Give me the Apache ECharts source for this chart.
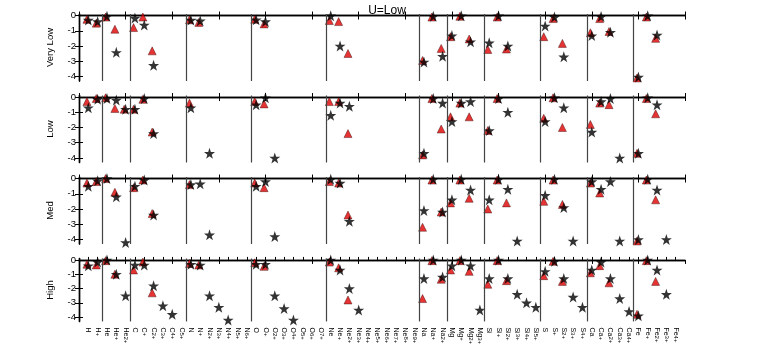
<!DOCTYPE html>
<html><head><meta charset="utf-8">
<script src="https://cdn.jsdelivr.net/npm/echarts@6/dist/echarts.min.js"></script>
<style>html,body{margin:0;padding:0;background:#fff}#c{width:763px;height:347px}</style>
</head><body><div id="c"></div>
<script>
const _ = null;
const title = 'U=Low';
const rowNames = ['Very Low', 'Low', 'Med', 'High'];
const categories = ['H','H+','He','He+','He2+','C','C+','C2+','C3+','C4+','C5+',
 'N','N+','N2+','N3+','N4+','N5+','N6+','O','O+','O2+','O3+','O4+','O5+','O6+','O7+',
 'Ne','Ne+','Ne2+','Ne3+','Ne4+','Ne5+','Ne6+','Ne7+','Ne8+','Ne9+','Na','Na+','Na2+',
 'Mg','Mg+','Mg2+','Mg3+','Si','Si+','Si2+','Si3+','Si4+','Si5+','S','S+','S2+','S3+','S4+',
 'Ca','Ca+','Ca2+','Ca3+','Ca4+','Fe','Fe+','Fe2+','Fe3+','Fe4+'];
const yTicks = [0, -1, -2, -3, -4];

// groups: H(2) | He(3) | C(6) | N(7) | O(8) | Ne(10) | Na(3) | Mg(4) | Si(6) | S(5) | Ca(5) | Fe(5)
const triVeryLow = [
  -0.25,-0.5,  -0.1,-0.9,_,  -0.79,-0.1,-2.32,_,_,_,  -0.28,-0.45,_,_,_,_,_,  -0.25,-0.55,_,_,_,_,_,_,
  -0.33,-0.4,-2.49,_,_,_,_,_,_,_,  -2.95,-0.1,-2.16,  -1.39,-0.05,-1.54,_,  -2.23,-0.1,-2.2,_,_,_,
  -1.39,-0.2,-1.83,_,_,  -1.13,-0.2,-1.05,_,_,  -4.1,-0.1,-1.5,_,_];
const starVeryLow = [
  -0.3,-0.4,  -0.05,-2.42,_,  -0.17,-0.62,-3.27,_,_,_,  -0.3,-0.35,_,_,_,_,_,  -0.28,-0.4,_,_,_,_,_,_,
  -0.02,-2.0,_,_,_,_,_,_,_,_,  -3.05,-0.05,-2.67,  -1.32,-0.02,-1.72,_,  -1.79,-0.02,-2.0,_,_,_,
  -0.68,-0.1,-2.71,_,_,  -1.32,-0.07,-1.1,_,_,  -4.04,-0.02,-1.28,_,_];
const triLow = [
  -0.3,-0.1,  -0.05,-0.75,-0.8,  -0.8,-0.15,-2.3,_,_,_,  -0.4,_,_,_,_,_,_,  -0.3,-0.45,_,_,_,_,_,_,
  -0.3,-0.3,-2.4,_,_,_,_,_,_,_,  -3.8,-0.1,-2.1,  -1.3,-0.4,-1.3,_,  -2.2,-0.1,_,_,_,_,
  -1.4,-0.05,-2.0,_,_,  -1.8,-0.4,-0.5,_,_,  -3.7,-0.1,-1.1,_,_];
const starLow = [
  -0.7,-0.15,  -0.1,-0.2,-0.8,  -0.8,-0.1,-2.4,_,_,_,  -0.7,_,-3.7,_,_,_,_,  -0.5,-0.05,-4.0,_,_,_,_,_,
  -1.2,-0.4,-0.6,_,_,_,_,_,_,_,  -3.7,-0.1,-0.4,  -1.6,-0.4,-0.3,_,  -2.2,-0.1,-1.0,_,_,_,
  -1.6,-0.05,-0.7,_,_,  -2.3,-0.3,-0.1,-4.0,_,  -3.7,-0.05,-0.5,_,_];
const triMed = [
  -0.3,-0.2,  0,-0.9,_,  -0.6,-0.1,-2.3,_,_,_,  -0.4,_,_,_,_,_,_,  -0.3,-0.6,_,_,_,_,_,_,
  -0.2,-0.3,-2.4,_,_,_,_,_,_,_,  -3.2,-0.1,-2.2,  -1.6,-0.1,-1.3,_,  -2.0,-0.1,-1.6,_,_,_,
  -1.5,-0.1,-1.7,_,_,  -0.3,-0.95,_,_,_,  -4.1,-0.1,-1.4,_,_];
const starMed = [
  -0.5,-0.15,  0,-1.2,-4.2,  -0.5,-0.1,-2.4,_,_,_,  -0.4,-0.35,-3.7,_,_,_,_,  -0.5,-0.2,-3.8,_,_,_,_,_,
  -0.05,-0.3,-2.8,_,_,_,_,_,_,_,  -2.1,-0.05,-2.2,  -1.4,-0.05,-0.75,_,  -1.4,-0.05,-0.7,-4.1,_,_,
  -1.1,-0.05,-1.9,-4.1,_,  -0.2,-0.7,-0.2,-4.1,_,  -4.0,-0.05,-0.75,-4.0,_];
const triHigh = [
  -0.3,-0.35,  -0.05,-1.0,_,  -0.7,-0.15,-2.3,_,_,_,  -0.25,-0.35,_,_,_,_,_,  -0.2,-0.45,_,_,_,_,_,_,
  -0.15,-0.55,-2.8,_,_,_,_,_,_,_,  -2.7,-0.05,-1.35,  -0.7,-0.05,-0.8,_,  -1.7,-0.05,-1.45,_,_,_,
  -1.1,-0.1,-1.5,_,_,  -0.9,-0.4,-1.6,_,_,  -3.8,-0.05,-1.5,_,_];
const starHigh = [
  -0.4,-0.15,  0,-1.0,-2.5,  -0.35,-0.35,-1.8,-3.2,-3.8,_,  -0.3,-0.35,-2.5,-3.3,-4.2,_,_,  -0.3,-0.3,-2.5,-3.4,-4.2,_,_,_,
  0,-0.7,-2.0,-3.5,_,_,_,_,_,_,  -1.3,0,-1.2,  -0.4,0,-0.4,-3.5,  -1.3,0,-1.3,-2.4,-3.0,-3.3,
  -0.8,-0.1,-1.3,-2.6,-3.3,  -0.7,-0.15,-1.3,-2.7,-3.6,  -3.9,0,-0.7,-2.4,_];

const triRows = [triVeryLow, triLow, triMed, triHigh];
const starRows = [starVeryLow, starLow, starMed, starHigh];

const FONT = 'Liberation Sans, Arial, sans-serif';
const STAR = 'path://M50,0 L61.8,35.3 L98.1,35.3 L68.8,57 L79.9,91.3 L50,70.5 L20.1,91.3 L31.2,57 L1.9,35.3 L38.2,35.3 Z';
const tops = [14, 95.5, 177, 258.5];
const H = 67;
const NX = categories.length + 1;
const catPos = categories.map((c, i) => i + 1);
const major = []; for (let v = 0; v <= NX; v += 5) major.push(v);
const elem = c => c.replace(/[0-9]*\+$/, '');
const seps = [];
for (let i = 1; i < categories.length; i++) if (elem(categories[i]) !== elem(categories[i - 1])) seps.push(i + 0.5);
const labelRich = c => { const e = elem(c); const q = c.slice(e.length); return q ? '{e|' + e + '}{q|' + q + '}' : '{e|' + e + '}'; };

const grids = [], xAxes = [], yAxes = [], series = [];
const lineS = { show: true, lineStyle: { color: '#000', width: 1.4 } };
rowNames.forEach((name, r) => {
  grids.push({ left: 79, right: 78, top: tops[r], height: H });
  const last = r === rowNames.length - 1;
  xAxes.push({ gridIndex: r, type: 'value', min: 0, max: NX, position: 'bottom',
    axisLine: lineS, splitLine: { show: false },
    axisTick: { show: true, inside: true, length: last ? 3 : 4, customValues: last ? catPos : major, lineStyle: { color: '#000' } },
    axisLabel: { show: last, customValues: catPos, rotate: -90, margin: 6, fontFamily: FONT, color: '#000',
      rich: { e: { fontSize: 7, fontFamily: FONT, color: '#000' }, q: { fontSize: 6, fontFamily: FONT, color: '#000' } },
      formatter: v => labelRich(categories[Math.round(v) - 1] || '') } });
  xAxes.push({ gridIndex: r, type: 'value', min: 0, max: NX, position: 'top',
    axisLine: lineS, splitLine: { show: false }, axisLabel: { show: false },
    axisTick: { show: true, inside: true, length: 4, customValues: major, lineStyle: { color: '#000' } } });
  yAxes.push({ gridIndex: r, type: 'value', min: -4.3, max: 0.1, position: 'left',
    name, nameLocation: 'middle', nameRotate: 90, nameGap: 24,
    nameTextStyle: { fontSize: 9.5, fontFamily: FONT, color: '#000' },
    axisLine: lineS, splitLine: { show: false },
    axisTick: { show: true, inside: true, length: 4, customValues: yTicks, lineStyle: { color: '#000' } },
    axisLabel: { customValues: yTicks, fontSize: 9.5, fontFamily: FONT, color: '#000', margin: 3 } });
  yAxes.push({ gridIndex: r, type: 'value', min: -4.3, max: 0.1, position: 'right',
    axisLine: lineS, splitLine: { show: false }, axisLabel: { show: false },
    axisTick: { show: true, inside: true, length: 4, customValues: yTicks, lineStyle: { color: '#000' } } });
  const tri = [], star = [];
  triRows[r].forEach((v, i) => { if (v !== null) tri.push([i + 1 - 0.15, v]); });
  starRows[r].forEach((v, i) => { if (v !== null) star.push([i + 1, v]); });
  series.push({ type: 'scatter', xAxisIndex: 2 * r, yAxisIndex: 2 * r, data: tri, symbol: 'triangle', symbolSize: 8,
    itemStyle: { color: '#e00000', borderColor: '#300', borderWidth: 0.5 }, silent: true,
    markLine: { silent: true, symbol: 'none', label: { show: false }, animation: false,
      lineStyle: { color: '#444', width: 1.2, type: 'solid' }, data: seps.map(s => ({ xAxis: s })) } });
  series.push({ type: 'scatter', xAxisIndex: 2 * r, yAxisIndex: 2 * r, data: star, symbol: STAR, symbolSize: 11,
    itemStyle: { color: '#000' }, silent: true });
});

const chart = echarts.init(document.getElementById('c'), null, { renderer: 'canvas' });
chart.setOption({
  animation: false,
  title: { text: title, left: 382, top: 0, textAlign: 'center', textStyle: { fontSize: 12, fontWeight: 'normal', fontFamily: FONT, color: '#000' } },
  grid: grids, xAxis: xAxes, yAxis: yAxes, series
});
</script></body></html>
